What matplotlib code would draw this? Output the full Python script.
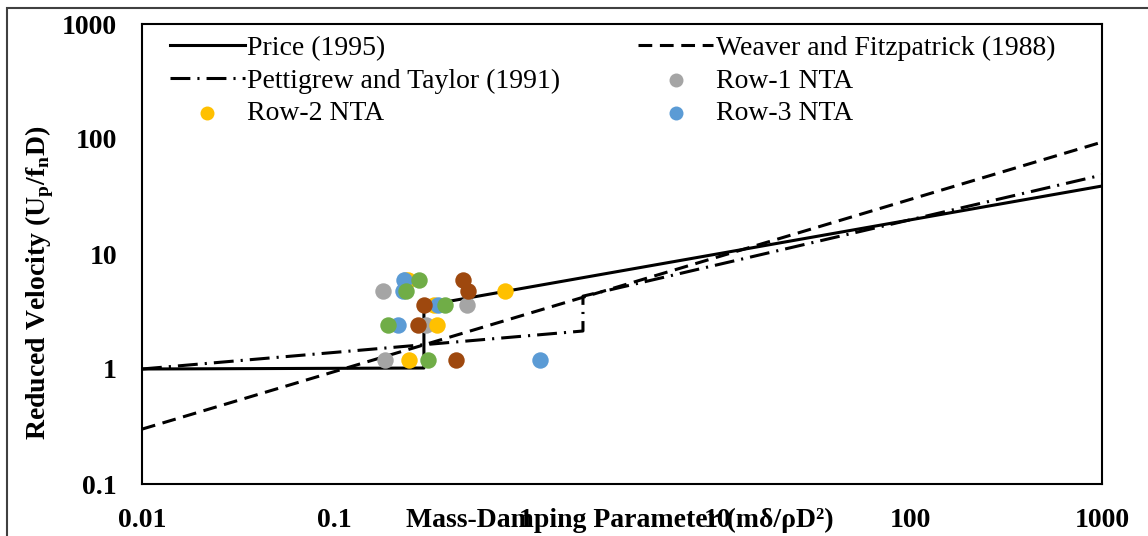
import matplotlib
matplotlib.use('Agg')
import matplotlib.pyplot as plt
from matplotlib.patches import Rectangle
from matplotlib.ticker import FixedLocator, FuncFormatter

plt.rcParams['font.family'] = ['Liberation Serif', 'DejaVu Serif']

# reference lines
price_x = [0.01, 0.294, 0.294, 1000]
price_y = [1.0, 1.02, 3.55, 39]
weaver_x = [0.01, 1000]
weaver_y = [0.30, 94]
pettigrew_x = [0.01, 1.98, 1.98, 1000]
pettigrew_y = [1.0, 2.14, 4.3, 48.6]

# measured points (mass-damping, reduced velocity)
row1_x = [0.184, 0.301, 0.493, 0.180, 0.235]
row1_y = [1.2, 2.4, 3.6, 4.8, 6.0]
row2_x = [0.246, 0.344, 0.332, 0.778, 0.243]
row2_y = [1.2, 2.4, 3.6, 4.8, 6.0]
row3_x = [1.18, 0.216, 0.348, 0.229, 0.232]
row3_y = [1.2, 2.4, 3.6, 4.8, 6.0]
row4_x = [0.309, 0.191, 0.379, 0.237, 0.277]
row4_y = [1.2, 2.4, 3.6, 4.8, 6.0]
row5_x = [0.432, 0.274, 0.294, 0.499, 0.470]
row5_y = [1.2, 2.4, 3.6, 4.8, 6.0]

x_ticks = [0.01, 0.1, 1, 10, 100, 1000]
y_ticks = [0.1, 1, 10, 100, 1000]

W, H = 1148, 536
fig = plt.figure(figsize=(W / 100, H / 100), dpi=100)
ax = fig.add_axes([142 / W, (H - 484) / H, 960 / W, 460 / H])

lw = 2.2
l_price, = ax.plot(price_x, price_y, color='black', lw=lw, label='Price (1995)')
l_weaver, = ax.plot(weaver_x, weaver_y, color='black', lw=lw,
                    dashes=(4.5, 2.5), label='Weaver and Fitzpatrick (1988)')
l_pett, = ax.plot(pettigrew_x, pettigrew_y, color='black', lw=lw,
                  dashes=(6.5, 2.3, 0.7, 2.3), label='Pettigrew and Taylor (1991)')

ms = 140
s1 = ax.scatter(row1_x, row1_y, s=ms, color='#A5A5A5', lw=0, label='Row-1 NTA', zorder=3)
s2 = ax.scatter(row2_x, row2_y, s=ms, color='#FFC000', lw=0, label='Row-2 NTA', zorder=3)
s3 = ax.scatter(row3_x, row3_y, s=ms, color='#5B9BD5', lw=0, label='Row-3 NTA', zorder=3)
ax.scatter(row4_x, row4_y, s=ms, color='#70AD47', lw=0, zorder=3)
ax.scatter(row5_x, row5_y, s=ms, color='#9E480E', lw=0, zorder=3)

ax.set_xscale('log')
ax.set_yscale('log')
ax.set_xlim(0.01, 1000)
ax.set_ylim(0.1, 1000)
ax.xaxis.set_major_locator(FixedLocator(x_ticks))
ax.yaxis.set_major_locator(FixedLocator(y_ticks))
ax.xaxis.set_minor_locator(FixedLocator([]))
ax.yaxis.set_minor_locator(FixedLocator([]))
fmt = FuncFormatter(lambda v, p: '%g' % v)
ax.xaxis.set_major_formatter(fmt)
ax.yaxis.set_major_formatter(fmt)
ax.tick_params(length=0, labelsize=20, pad=17)
ax.tick_params(axis='y', pad=18)
for t in ax.get_xticklabels() + ax.get_yticklabels():
    t.set_fontweight('bold')
for sp in ax.spines.values():
    sp.set_linewidth(1.5)

handles = [l_price, l_pett, s2, l_weaver, s1, s3]
ax.legend(handles=handles, labels=[h.get_label() for h in handles],
          ncol=2, frameon=False, loc='upper left',
          bbox_to_anchor=(16 / 960, 1.0), fontsize=20,
          handlelength=2.7, handletextpad=0.1, columnspacing=2.8,
          labelspacing=0.26, borderaxespad=0.02, markerscale=0.85)

fig.text(40 / W, 1 - 283 / H, 'Reduced Velocity (U$_\\mathregular{p}$/f$_\\mathregular{n}$D)',
         rotation=90, ha='center', va='center', fontsize=20, fontweight='bold')
fig.text(620 / W, 1 - 520 / H, 'Mass-Damping Parameter (mδ/ρD²)',
         ha='center', va='center', fontsize=20, fontweight='bold')

fig.patches.append(Rectangle((7 / W, -0.1), 1.2, 1.1 - 8 / H, transform=fig.transFigure,
                             fill=False, edgecolor='#404040', lw=1.5))

fig.savefig('out.png', dpi=100)
